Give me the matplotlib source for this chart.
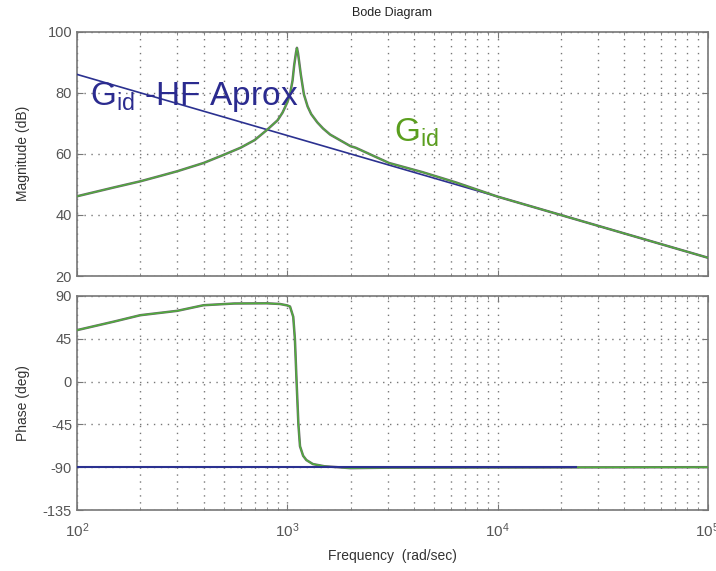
import matplotlib
matplotlib.use("Agg")
import matplotlib.pyplot as plt
import matplotlib.patheffects as pe
from matplotlib.ticker import LogLocator, NullFormatter

plt.rcParams["font.family"] = ["Liberation Sans", "DejaVu Sans"]
plt.rcParams["axes.unicode_minus"] = False

# ── Data ─────────────────────────────────────────────────────────────────────
freq_mag = [100, 150, 200, 250, 300, 400, 500, 600, 700, 800, 900, 950,
            1000, 1031, 1060, 1079, 1100, 1112, 1125, 1140, 1160, 1200,
            1250, 1300, 1390, 1480, 1600, 2000, 2115, 3050, 4400, 6300,
            10000, 100000]
gid_mag = [46.1, 49.0, 51.0, 52.8, 54.3, 57.0, 59.7, 62.0, 64.5, 67.8,
           71.0, 73.5, 76.8, 79.5, 84.0, 89.0, 93.0, 94.7, 93.0, 90.0,
           86.0, 79.5, 75.5, 73.0, 70.3, 68.3, 66.3, 62.5, 62.0, 57.0,
           54.0, 50.7, 46.0, 26.0]

freq_hf = [100, 1000, 10000, 100000]
hf_mag = [86, 66, 46, 26]

freq_ph = [100, 150, 200, 300, 400, 560, 800, 923, 1000, 1031, 1068, 1088,
           1107, 1130, 1150, 1190, 1233, 1324, 1500, 2000, 3000, 100000]
gid_ph = [54, 63, 69.7, 74.3, 80.2, 82, 82.2, 81.5, 80.0, 78.8, 68, 44,
          1.5, -45, -68, -78, -82.5, -86.7, -89, -91, -90.5, -90]

freq_hf_ph = [100, 23600]
hf_ph = [-90, -90]

mag_ticks = [20, 40, 60, 80, 100]
ph_ticks = [-135, -90, -45, 0, 45, 90]

C_GID = "#4fb03a"
C_HF = "#2b3190"
C_FRAME = "#777777"
C_TICKLBL = "#555555"

fig = plt.figure(figsize=(7.16, 5.71), dpi=100)
ax1 = fig.add_axes([0.1075, 0.5166, 0.881, 0.428])
ax2 = fig.add_axes([0.1075, 0.1068, 0.881, 0.375])

outline = [pe.Stroke(linewidth=1.8, foreground="#6a6a6a"), pe.Normal()]

ax1.plot(freq_hf, hf_mag, color=C_HF, lw=1.2, zorder=3)
ax1.plot(freq_mag, gid_mag, color=C_GID, lw=0.9, path_effects=outline, zorder=4)
ax2.plot(freq_ph, gid_ph, color=C_GID, lw=1.0, path_effects=outline, zorder=3)
ax2.plot(freq_hf_ph, hf_ph, color=C_HF, lw=1.5, zorder=4)

for ax in (ax1, ax2):
    ax.set_xscale("log")
    ax.set_xlim(100, 100000)
    ax.xaxis.set_major_locator(LogLocator(base=10))
    ax.xaxis.set_minor_locator(LogLocator(base=10, subs=range(2, 10)))
    ax.xaxis.set_minor_formatter(NullFormatter())
    ax.grid(True, which="both", axis="x", linestyle=(0, (1, 4)), color="#777777", lw=1.0)
    ax.grid(True, which="major", axis="y", linestyle=(0, (1, 4)), color="#777777", lw=1.0)
    ax.tick_params(which="both", direction="in", top=True, right=True,
                   colors=C_FRAME, labelcolor=C_TICKLBL, labelsize=10.5)
    ax.tick_params(which="major", length=4)
    ax.tick_params(which="minor", length=2.5)
    for s in ax.spines.values():
        s.set_color(C_FRAME)
        s.set_linewidth(1.2)

ax1.set_ylim(20, 100)
ax1.set_yticks(mag_ticks)
ax1.tick_params(labelbottom=False)
ax1.set_ylabel("Magnitude (dB)", fontsize=10, color="#333333")
ax1.set_title("Bode Diagram", fontsize=9, color="#222222", pad=11)

ax2.set_ylim(-135, 90)
ax2.set_yticks(ph_ticks)
ax2.set_ylabel("Phase (deg)", fontsize=10, color="#333333")
ax2.set_xlabel("Frequency  (rad/sec)", fontsize=10, color="#333333", labelpad=7)
ax2.tick_params(axis="x", labelsize=11, pad=8)

ax1.yaxis.set_label_coords(-0.075, 0.5)
ax2.yaxis.set_label_coords(-0.075, 0.5)

fig.text(90 / 716, 1 - 105 / 571, r"$\mathregular{G_{id}}$ -HF Aprox",
         fontsize=24, color="#2b2b8f", va="baseline", ha="left")
fig.text(394 / 716, 1 - 142 / 571, r"$\mathregular{G_{id}}$",
         fontsize=24, color="#5a9e1e", va="baseline", ha="left")

fig.savefig("out.png", dpi=100, facecolor="white")
